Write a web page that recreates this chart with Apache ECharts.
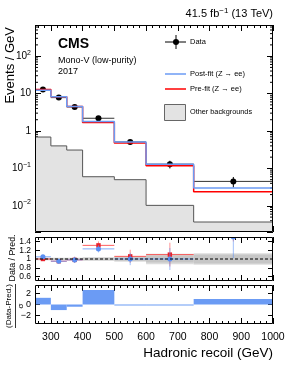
<!DOCTYPE html>
<html><head><meta charset="utf-8">
<script src="https://cdn.jsdelivr.net/npm/echarts@6/dist/echarts.min.js"></script>
<style>html,body{margin:0;padding:0;background:#fff}#c{width:291px;height:376px}</style>
</head><body><div id="c"></div>
<script>
// ---- data ----
const binEdges   = [250, 300, 350, 400, 500, 600, 750, 1000];
const binCenters = [275, 325, 375, 450, 550, 675, 875];
const dataVals   = [12.8, 7.8, 4.4, 2.19, 0.51, 0.13, 0.045];
const dataErr    = [0.5, 0.4, 0.3, 0.15, 0.07, 0.03, 0.014];
const postFit    = [12.2, 8.2, 4.5, 1.79, 0.51, 0.13, 0.030];
const preFit     = [12.8, 8.2, 4.5, 1.68, 0.48, 0.118, 0.0237];
const otherBkg   = [0.69, 0.40, 0.31, 0.060, 0.050, 0.0103, 0.0037];
const ratioPost    = [1.05, 0.95, 0.98, 1.23, 1.00, 1.00, 1.50];
const ratioPostErr = [0.04, 0.05, 0.07, 0.08, 0.14, 0.25, 0.48];
const ratioPre     = [1.00, 0.95, 0.98, 1.31, 1.06, 1.10, 1.90];
const ratioPreErr  = [0.04, 0.05, 0.07, 0.09, 0.15, 0.27, 0.50];
const bandInner  = [0.02, 0.02, 0.02, 0.03, 0.04, 0.08, 0.10];
const bandOuter  = [0.03, 0.03, 0.03, 0.04, 0.06, 0.12, 0.13];
const pulls      = [1.2, -1.0, -0.4, 2.6, -0.1, -0.08, 1.0];
const xMajorTicks = [300, 400, 500, 600, 700, 800, 900, 1000];
const xMinorTicks = [260,280,320,340,360,380,420,440,460,480,520,540,560,580,620,640,660,680,720,740,760,780,820,840,860,880,920,940,960,980];
const ratioTicks = [0.6, 0.8, 1, 1.2, 1.4];
const pullTicks  = [-2, 0, 2];

const FONT = "'Liberation Sans', Arial, Helvetica, sans-serif";
const BLUE = '#6b9bf4', RED = '#ff0000';
const X0 = 35, W = 238;
const G = [{top:25,height:207},{top:237,height:44},{top:285,height:39}];

const grids = G.map(g => ({left:X0, width:W, top:g.top, height:g.height, show:false, containLabel:false}));

function xAx(g, pos, ticks, len, withLabels) {
  return {type:'value', gridIndex:g, min:250, max:1000, position:pos,
    axisLine:{show:false, onZero:false},
    axisTick:{show:true, inside:true, length:len, customValues:ticks, lineStyle:{color:'#000', width:1}},
    axisLabel: withLabels ? {show:true, customValues:xMajorTicks, formatter:v=>String(v), hideOverlap:false,
                             showMinLabel:true, showMaxLabel:true,
                             fontSize:10.5, fontFamily:FONT, color:'#000', margin:8} : {show:false},
    splitLine:{show:false}};
}
const xAxes = [];
for (let g = 0; g < 3; g++) {
  xAxes.push(xAx(g,'bottom',xMajorTicks,6,g===2));
  xAxes.push(xAx(g,'bottom',xMinorTicks,3,false));
  xAxes.push(xAx(g,'top',xMajorTicks,6,false));
  xAxes.push(xAx(g,'top',xMinorTicks,3,false));
}
const logFmt = v => {
  const l = Math.log10(v), e = Math.round(l);
  if (Math.abs(l - e) > 1e-6) return '';
  if (e === 0) return '{b|1}';
  if (e === 1) return '{b|10}';
  return '{b|10}{s|' + (e < 0 ? '\u2212' + (-e) : e) + '}';
};
const supRich = {b:{fontSize:10, fontFamily:FONT, color:'#000', lineHeight:14, verticalAlign:'middle'},
                 s:{fontSize:7, fontFamily:FONT, color:'#000', lineHeight:7, verticalAlign:'top'}};
const yAxes = [
  {type:'log', logBase:10, gridIndex:0, min:0.002, max:680, position:'left',
   axisLine:{show:false,onZero:false}, axisTick:{inside:true,length:6,lineStyle:{color:'#000'}},
   axisLabel:{formatter:logFmt, rich:supRich, margin:4, hideOverlap:false}, splitLine:{show:false}},
  {type:'log', logBase:10, gridIndex:0, min:0.002, max:680, position:'right',
   axisLine:{show:false,onZero:false}, axisTick:{inside:true,length:6,lineStyle:{color:'#000'}},
   axisLabel:{show:false}, splitLine:{show:false}},
  {type:'value', gridIndex:1, min:0.5, max:1.5, position:'left',
   axisLine:{show:false,onZero:false}, axisTick:{inside:true,length:5,customValues:ratioTicks,lineStyle:{color:'#000'}},
   axisLabel:{show:false}, splitLine:{show:false}},
  {type:'value', gridIndex:1, min:0.5, max:1.5, position:'right',
   axisLine:{show:false,onZero:false}, axisTick:{inside:true,length:5,customValues:ratioTicks,lineStyle:{color:'#000'}},
   axisLabel:{show:false}, splitLine:{show:false}},
  {type:'value', gridIndex:2, min:-3.5, max:3.5, position:'left',
   axisLine:{show:false,onZero:false}, axisTick:{inside:true,length:5,customValues:pullTicks,lineStyle:{color:'#000'}},
   axisLabel:{customValues:pullTicks, formatter:v=>(v<0?'\u2212'+(-v):String(v)), hideOverlap:false,
              showMinLabel:true, showMaxLabel:true,
              fontSize:9, fontFamily:FONT, color:'#000', margin:4}, splitLine:{show:false}},
  {type:'value', gridIndex:2, min:-3.5, max:3.5, position:'right',
   axisLine:{show:false,onZero:false}, axisTick:{inside:true,length:5,customValues:pullTicks,lineStyle:{color:'#000'}},
   axisLabel:{show:false}, splitLine:{show:false}}
];

const stepData = vals => binEdges.map((e,i) => [e, vals[Math.min(i, vals.length-1)]]);
const errData = (vals, errs) => vals.map((v,i) => [binCenters[i], v, errs[i], errs[i], binEdges[i], binEdges[i+1]]);
const bandData = w => w.map((d,i) => [binEdges[i], binEdges[i+1], 1-d, 1+d]);

function errItem(o) {
  return function(params, api) {
    const xc=api.value(0), y=api.value(1), lo=api.value(2), hi=api.value(3), x0=api.value(4), x1=api.value(5);
    const c=api.coord([xc,y]), l=api.coord([x0,y]), r=api.coord([x1,y]);
    const t=api.coord([xc,y+hi]), b=api.coord([xc,y-lo]);
    const mk = o.square
      ? {type:'rect', shape:{x:c[0]-o.r, y:c[1]-o.r, width:2*o.r, height:2*o.r}, style:{fill:o.m}}
      : {type:'circle', shape:{cx:c[0], cy:c[1], r:o.r}, style:{fill:o.m}};
    return {type:'group', children:[
      {type:'line', shape:{x1:l[0],y1:c[1],x2:r[0],y2:c[1]}, style:{stroke:o.h, lineWidth:o.lw}},
      {type:'line', shape:{x1:c[0],y1:t[1],x2:c[0],y2:b[1]}, style:{stroke:o.v, lineWidth:o.lw}},
      mk]};
  };
}
function bandItem(color) {
  return function(params, api) {
    const a=api.coord([api.value(0), api.value(3)]), b=api.coord([api.value(1), api.value(2)]);
    return {type:'rect', shape:{x:a[0], y:a[1], width:b[0]-a[0], height:b[1]-a[1]}, style:{fill:color}};
  };
}
// minor log ticks (axis decoration)
const logMinor = [];
for (let e = -3; e <= 2; e++) for (let k = 2; k <= 9; k++) {
  const v = k * Math.pow(10, e);
  if (v > 0.0021 && v < 679) logMinor.push([250, v]);
}
// ratio tick labels placed through the ratio axis scale
const ratioLabelData = ratioTicks.map(v => [250, v]);

const series = [
  {type:'line', xAxisIndex:0, yAxisIndex:0, step:'end', data:stepData(otherBkg), symbol:'none',
   lineStyle:{color:'#555', width:1}, areaStyle:{color:'#e3e3e3', opacity:1, origin:'start'}, silent:true},
  {type:'line', xAxisIndex:0, yAxisIndex:0, step:'end', data:stepData(preFit), symbol:'none',
   lineStyle:{color:RED, width:1.5}, silent:true},
  {type:'line', xAxisIndex:0, yAxisIndex:0, step:'end', data:stepData(postFit), symbol:'none',
   lineStyle:{color:BLUE, width:1.5}, silent:true},
  {type:'custom', xAxisIndex:0, yAxisIndex:0, clip:true, encode:{x:0,y:1},
   data:errData(dataVals, dataErr), renderItem:errItem({h:'#333', v:'#000', m:'#000', r:3, lw:1})},
  {type:'custom', xAxisIndex:0, yAxisIndex:0, clip:false, encode:{x:0,y:1}, data:logMinor,
   renderItem:function(params, api){
     const v=api.value(1), p=api.coord([250,v]), q=api.coord([1000,v]);
     return {type:'group', children:[
       {type:'line', shape:{x1:p[0],y1:p[1],x2:p[0]+3,y2:p[1]}, style:{stroke:'#000',lineWidth:1}},
       {type:'line', shape:{x1:q[0]-3,y1:q[1],x2:q[0],y2:q[1]}, style:{stroke:'#000',lineWidth:1}}]};
   }},
  // ratio panel
  {type:'custom', xAxisIndex:4, yAxisIndex:2, clip:true, encode:{x:[0,1],y:[2,3]}, data:bandData(bandOuter), renderItem:bandItem('#dcdcdc')},
  {type:'custom', xAxisIndex:4, yAxisIndex:2, clip:true, encode:{x:[0,1],y:[2,3]}, data:bandData(bandInner), renderItem:bandItem('#c6c6c6')},
  {type:'line', xAxisIndex:4, yAxisIndex:2, data:[[250,1],[1000,1]], symbol:'none',
   lineStyle:{color:'#000', width:1.2, type:[3,2]}, silent:true},
  {type:'custom', xAxisIndex:4, yAxisIndex:2, clip:true, encode:{x:0,y:1},
   data:errData(ratioPre, ratioPreErr), renderItem:errItem({h:'rgba(255,40,40,0.75)', v:'rgba(255,60,60,0.55)', m:'#e8202a', r:2.2, lw:1, square:true})},
  {type:'custom', xAxisIndex:4, yAxisIndex:2, clip:true, encode:{x:0,y:1},
   data:errData(ratioPost, ratioPostErr), renderItem:errItem({h:'rgba(100,150,245,0.8)', v:'rgba(100,150,245,0.6)', m:'#5b8ff2', r:2.5, lw:1})},
  {type:'custom', xAxisIndex:4, yAxisIndex:2, clip:false, encode:{x:0,y:1}, data:ratioLabelData,
   renderItem:function(params, api){
     const v=api.value(1), p=api.coord([250,v]);
     return {type:'text', x:p[0]-4, y:p[1], style:{text:String(v), fontSize:8.5, fontFamily:FONT, fill:'#000',
             align:'right', verticalAlign:'middle', textAlign:'right', textVerticalAlign:'middle'}};
   }},
  // pull panel
  {type:'custom', xAxisIndex:8, yAxisIndex:4, clip:true, encode:{x:[0,1],y:2},
   data:pulls.map((p,i) => [binEdges[i], binEdges[i+1], p]),
   renderItem:function(params, api){
     const a=api.coord([api.value(0),0]), b=api.coord([api.value(1),api.value(2)]);
     const h=Math.max(Math.abs(b[1]-a[1]),1);
     return {type:'rect', shape:{x:a[0], y:Math.min(a[1],b[1]), width:b[0]-a[0], height:h}, style:{fill:BLUE}};
   }}
];

const T = (x, y, text, size, extra) => Object.assign({type:'text', x, y, z:110,
  style:Object.assign({text, fontSize:size, fontFamily:FONT, fill:'#000', align:'left', verticalAlign:'middle',
                       textAlign:'left', textVerticalAlign:'middle'}, extra||{})});
const frame = (g) => ({type:'rect', z:100, shape:{x:X0+0.5, y:g.top+0.5, width:W-1, height:g.height-1},
  style:{fill:'none', stroke:'#000', lineWidth:1}, silent:true});
const graphic = [
  frame(G[0]), frame(G[1]), frame(G[2]),
  {type:'text', x:273, y:14, z:110, style:{text:'{b|41.5 fb}{s|\u22121}{b| (13 TeV)}', align:'right', verticalAlign:'middle',
     textAlign:'right', textVerticalAlign:'middle',
     rich:{b:{fontSize:11, fontFamily:FONT, fill:'#000', color:'#000', lineHeight:15, verticalAlign:'middle'},
           s:{fontSize:8, fontFamily:FONT, fill:'#000', color:'#000', lineHeight:8, verticalAlign:'top'}}}},
  T(58, 44, 'CMS', 14, {fontWeight:'bold'}),
  T(58, 61, 'Mono-V (low-purity)', 9),
  T(58, 72, '2017', 9),
  // legend
  {type:'line', z:110, shape:{x1:165,y1:42,x2:186,y2:42}, style:{stroke:'#000', lineWidth:1}},
  {type:'line', z:110, shape:{x1:176,y1:35,x2:176,y2:49}, style:{stroke:'#000', lineWidth:1}},
  {type:'circle', z:111, shape:{cx:176, cy:42, r:3}, style:{fill:'#000'}},
  T(190, 42, 'Data', 7.5),
  {type:'line', z:110, shape:{x1:165,y1:74,x2:186,y2:74}, style:{stroke:BLUE, lineWidth:1.5}},
  T(190, 74, 'Post-fit (Z \u2192 ee)', 7.5),
  {type:'line', z:110, shape:{x1:165,y1:89,x2:186,y2:89}, style:{stroke:RED, lineWidth:1.5}},
  T(190, 89, 'Pre-fit (Z \u2192 ee)', 7.5),
  {type:'rect', z:110, shape:{x:164.5,y:104.5,width:21,height:16}, style:{fill:'#e3e3e3', stroke:'#666', lineWidth:1}},
  T(190, 112, 'Other backgrounds', 7.3),
  // axis titles
  T(10, 27, 'Events / GeV', 13, {align:'right', textAlign:'right'}),
  T(13, 258, 'Data / Pred.', 8.8, {align:'center', textAlign:'center'}),
  T(9, 306, '(Data-Pred.)', 8, {align:'center', textAlign:'center'}),
  {type:'line', z:110, shape:{x1:15.5,y1:284,x2:15.5,y2:328}, style:{stroke:'#000', lineWidth:0.8}},
  T(21, 306, '\u03c3', 8, {align:'center', textAlign:'center'}),
  T(273, 353, 'Hadronic recoil (GeV)', 13.5, {align:'right', textAlign:'right'})
];
// rotate vertical titles
[graphic.length-6, graphic.length-5, graphic.length-4, graphic.length-2].forEach(i => { graphic[i].rotation = Math.PI/2; });

const chart = echarts.init(document.getElementById('c'), null, {renderer:'canvas'});
chart.setOption({animation:false, backgroundColor:'#fff', grid:grids, xAxis:xAxes, yAxis:yAxes, series, graphic});
</script></body></html>
